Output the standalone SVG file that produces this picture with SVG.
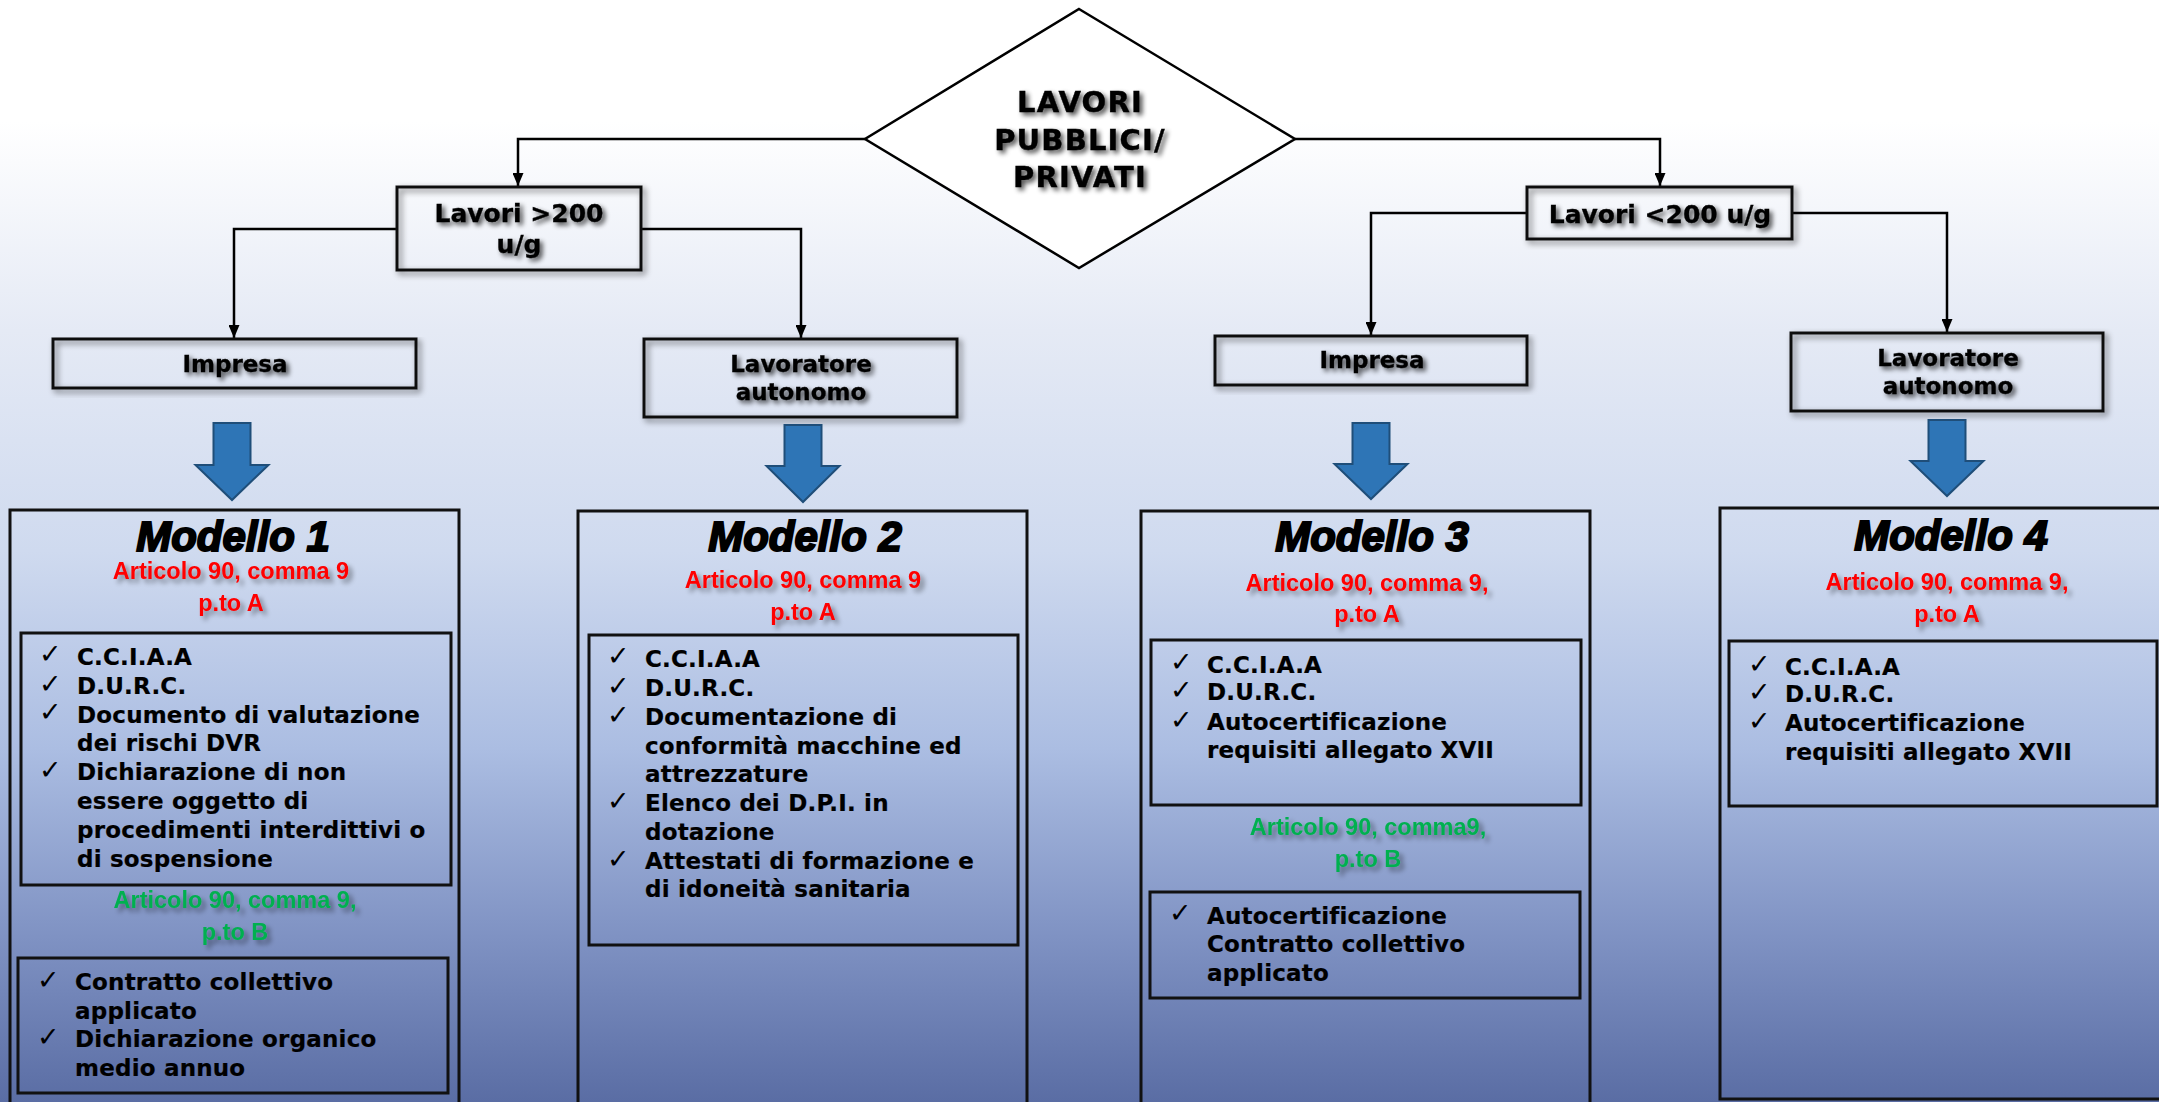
<svg xmlns="http://www.w3.org/2000/svg" width="2159" height="1102" viewBox="0 0 2159 1102">
<defs>
<linearGradient id="bgGrad" x1="0" y1="0" x2="0" y2="1102" gradientUnits="userSpaceOnUse">
<stop offset="0" stop-color="#ffffff"/>
<stop offset="0.11" stop-color="#ffffff"/>
<stop offset="0.3" stop-color="#e5eaf5"/>
<stop offset="0.5" stop-color="#cfdaef"/>
<stop offset="0.68" stop-color="#abbde2"/>
<stop offset="0.85" stop-color="#7f92c3"/>
<stop offset="1" stop-color="#5a6da4"/>
</linearGradient>
<filter id="ts" x="-10%" y="-40%" width="125%" height="190%">
<feGaussianBlur in="SourceAlpha" stdDeviation="2.5"/>
<feOffset dx="3" dy="3" result="b"/>
<feComponentTransfer><feFuncA type="linear" slope="0.7"/></feComponentTransfer>
<feMerge><feMergeNode/><feMergeNode in="SourceGraphic"/></feMerge>
</filter>
<filter id="cs" x="-10%" y="-40%" width="125%" height="190%">
<feGaussianBlur in="SourceAlpha" stdDeviation="2.5"/>
<feOffset dx="4" dy="4"/>
<feComponentTransfer><feFuncA type="linear" slope="0.4"/></feComponentTransfer>
<feMerge><feMergeNode/><feMergeNode in="SourceGraphic"/></feMerge>
</filter>
<filter id="bs" x="-5%" y="-10%" width="112%" height="130%">
<feGaussianBlur in="SourceAlpha" stdDeviation="3"/>
<feOffset dx="3" dy="3"/>
<feComponentTransfer><feFuncA type="linear" slope="0.55"/></feComponentTransfer>
<feMerge><feMergeNode/><feMergeNode in="SourceGraphic"/></feMerge>
</filter>
<marker id="ah" viewBox="0 0 10 10" refX="10" refY="5" markerWidth="13" markerHeight="11" markerUnits="userSpaceOnUse" orient="auto" preserveAspectRatio="none">
<path d="M0,0 L10,5 L0,10 z" fill="#000"/>
</marker>
<style>
.sbox{fill:none;stroke:#111;stroke-width:3;filter:url(#bs)}
.mbox{fill:none;stroke:#111;stroke-width:3}
.conn{fill:none;stroke:#000;stroke-width:2.5;marker-end:url(#ah)}
.barrow{fill:#2E75B6;stroke:#1F4E79;stroke-width:2;stroke-linejoin:miter}
.dt{font-family:"DejaVu Sans","Liberation Sans",sans-serif;font-weight:bold;font-size:29px;letter-spacing:1.2px;text-anchor:middle;fill:#000;stroke:#000;stroke-width:0.4px;filter:url(#ts)}
.st{font-family:"DejaVu Sans","Liberation Sans",sans-serif;font-weight:bold;font-size:25px;text-anchor:middle;fill:#000;stroke:#000;stroke-width:0.3px;filter:url(#ts)}
.lt{font-family:"DejaVu Sans","Liberation Sans",sans-serif;font-weight:bold;font-size:23px;text-anchor:middle;fill:#000;stroke:#000;stroke-width:0.3px;filter:url(#ts)}
.title{font-family:"Liberation Sans",Arial,sans-serif;font-weight:bold;font-style:italic;font-size:42px;text-anchor:middle;fill:#000;stroke:#000;stroke-width:2px}
.red{font-family:"Liberation Sans",Arial,sans-serif;font-weight:bold;font-size:23.5px;text-anchor:middle;fill:#FF0000;filter:url(#cs)}
.green{font-family:"Liberation Sans",Arial,sans-serif;font-weight:bold;font-size:23.5px;text-anchor:middle;fill:#00B050;filter:url(#cs)}
.item{font-family:"DejaVu Sans","Liberation Sans",sans-serif;font-weight:bold;font-size:23px;letter-spacing:0.2px;fill:#000;stroke:#000;stroke-width:0.2px}
.ck{font-family:"DejaVu Sans",sans-serif;font-size:27px;fill:#000}
</style>
</defs>
<rect x="0" y="0" width="2159" height="1102" fill="url(#bgGrad)"/>

<g id="connectors">
<path class="conn" d="M865,139 H518 V186"/>
<path class="conn" d="M1295,139 H1660 V186"/>
<path class="conn" d="M397,229 H234 V338"/>
<path class="conn" d="M641,229 H801 V338"/>
<path class="conn" d="M1527,213 H1371 V335"/>
<path class="conn" d="M1792,213 H1947 V332"/>
</g>

<g id="decision">
<polygon points="1079,9 1295,139 1079,268 865,139" fill="#fff" stroke="#000" stroke-width="2.5"/>
<text class="dt" x="1080" y="112">LAVORI</text>
<text class="dt" x="1080" y="150">PUBBLICI/</text>
<text class="dt" x="1080" y="187">PRIVATI</text>
</g>

<g id="lavori-sopra-200">
<rect class="sbox" x="397" y="187" width="244" height="83"/>
<text class="st" x="519" y="222">Lavori &gt;200</text>
<text class="st" x="519" y="253">u/g</text>
</g>

<g id="lavori-sotto-200">
<rect class="sbox" x="1527" y="187" width="265" height="52"/>
<text class="st" x="1660" y="223">Lavori &lt;200 u/g</text>
</g>

<g id="impresa-1">
<rect class="sbox" x="53" y="339" width="363" height="49"/>
<text class="lt" x="235" y="372">Impresa</text>
</g>

<g id="lavoratore-1">
<rect class="sbox" x="644" y="339" width="313" height="78"/>
<text class="lt" x="801" y="372">Lavoratore</text>
<text class="lt" x="801" y="400">autonomo</text>
</g>

<g id="impresa-2">
<rect class="sbox" x="1215" y="336" width="312" height="49"/>
<text class="lt" x="1372" y="368">Impresa</text>
</g>

<g id="lavoratore-2">
<rect class="sbox" x="1791" y="333" width="312" height="78"/>
<text class="lt" x="1948" y="366">Lavoratore</text>
<text class="lt" x="1948" y="394">autonomo</text>
</g>

<g id="block-arrows">
<polygon class="barrow" points="213.5,423 250.5,423 250.5,465 268.5,465 232,500 195.5,465 213.5,465"/>
<polygon class="barrow" points="784.5,425 821.5,425 821.5,466 839.5,466 803,502 766.5,466 784.5,466"/>
<polygon class="barrow" points="1352.5,423 1389.5,423 1389.5,464 1407.5,464 1371,499 1334.5,464 1352.5,464"/>
<polygon class="barrow" points="1928.5,420 1965.5,420 1965.5,461 1983.5,461 1947,496 1910.5,461 1928.5,461"/>
</g>

<g id="modello-1">
<rect class="mbox" x="10" y="510" width="449" height="600"/>
<text class="title" x="233" y="551">Modello 1</text>
<text class="red" x="231" y="579">Articolo 90, comma 9</text>
<text class="red" x="231" y="611">p.to A</text>
<rect class="mbox" x="21" y="633" width="430" height="252"/>
<g class="ck">
<text x="39" y="663">✓</text><text x="39" y="693">✓</text><text x="39" y="721">✓</text><text x="39" y="779">✓</text>
</g>
<text class="item"><tspan x="77" y="664.5">C.C.I.A.A</tspan><tspan x="77" y="694">D.U.R.C.</tspan><tspan x="77" y="722.5">Documento di valutazione</tspan><tspan x="77" y="751">dei rischi DVR</tspan><tspan x="77" y="780">Dichiarazione di non</tspan><tspan x="77" y="809">essere oggetto di</tspan><tspan x="77" y="838">procedimenti interdittivi o</tspan><tspan x="77" y="867">di sospensione</tspan></text>
<text class="green" x="235" y="908">Articolo 90, comma 9,</text>
<text class="green" x="235" y="940">p.to B</text>
<rect class="mbox" x="18" y="958" width="430" height="135"/>
<g class="ck">
<text x="37" y="989">✓</text><text x="37" y="1046">✓</text>
</g>
<text class="item"><tspan x="75" y="990">Contratto collettivo</tspan><tspan x="75" y="1019">applicato</tspan><tspan x="75" y="1047">Dichiarazione organico</tspan><tspan x="75" y="1076">medio annuo</tspan></text>
</g>

<g id="modello-2">
<rect class="mbox" x="578" y="511" width="449" height="600"/>
<text class="title" x="805" y="551">Modello 2</text>
<text class="red" x="803" y="588">Articolo 90, comma 9</text>
<text class="red" x="803" y="620">p.to A</text>
<rect class="mbox" x="589" y="635" width="429" height="310"/>
<g class="ck">
<text x="607" y="665">✓</text><text x="607" y="695">✓</text><text x="607" y="724">✓</text><text x="607" y="810">✓</text><text x="607" y="868">✓</text>
</g>
<text class="item"><tspan x="645" y="666.5">C.C.I.A.A</tspan><tspan x="645" y="696">D.U.R.C.</tspan><tspan x="645" y="725">Documentazione di</tspan><tspan x="645" y="754">conformità macchine ed</tspan><tspan x="645" y="782">attrezzature</tspan><tspan x="645" y="811">Elenco dei D.P.I. in</tspan><tspan x="645" y="840">dotazione</tspan><tspan x="645" y="869">Attestati di formazione e</tspan><tspan x="645" y="897">di idoneità sanitaria</tspan></text>
</g>

<g id="modello-3">
<rect class="mbox" x="1141" y="511" width="449" height="600"/>
<text class="title" x="1372" y="551">Modello 3</text>
<text class="red" x="1367" y="591">Articolo 90, comma 9,</text>
<text class="red" x="1367" y="622">p.to A</text>
<rect class="mbox" x="1151" y="640" width="430" height="165"/>
<g class="ck">
<text x="1170" y="671">✓</text><text x="1170" y="699">✓</text><text x="1170" y="729">✓</text>
</g>
<text class="item"><tspan x="1207" y="672.5">C.C.I.A.A</tspan><tspan x="1207" y="700">D.U.R.C.</tspan><tspan x="1207" y="730">Autocertificazione</tspan><tspan x="1207" y="758">requisiti allegato XVII</tspan></text>
<text class="green" x="1368" y="835">Articolo 90, comma9,</text>
<text class="green" x="1368" y="867">p.to B</text>
<rect class="mbox" x="1150" y="892" width="430" height="106"/>
<g class="ck">
<text x="1169" y="922">✓</text>
</g>
<text class="item"><tspan x="1207" y="923.5">Autocertificazione</tspan><tspan x="1207" y="952">Contratto collettivo</tspan><tspan x="1207" y="980.5">applicato</tspan></text>
</g>

<g id="modello-4">
<rect class="mbox" x="1720" y="508" width="450" height="591"/>
<text class="title" x="1951" y="549.5">Modello 4</text>
<text class="red" x="1947" y="590">Articolo 90, comma 9,</text>
<text class="red" x="1947" y="622">p.to A</text>
<rect class="mbox" x="1729" y="641" width="428" height="165"/>
<g class="ck">
<text x="1748" y="673">✓</text><text x="1748" y="701">✓</text><text x="1748" y="730">✓</text>
</g>
<text class="item"><tspan x="1785" y="674.5">C.C.I.A.A</tspan><tspan x="1785" y="702">D.U.R.C.</tspan><tspan x="1785" y="731">Autocertificazione</tspan><tspan x="1785" y="759.5">requisiti allegato XVII</tspan></text>
</g>
</svg>
